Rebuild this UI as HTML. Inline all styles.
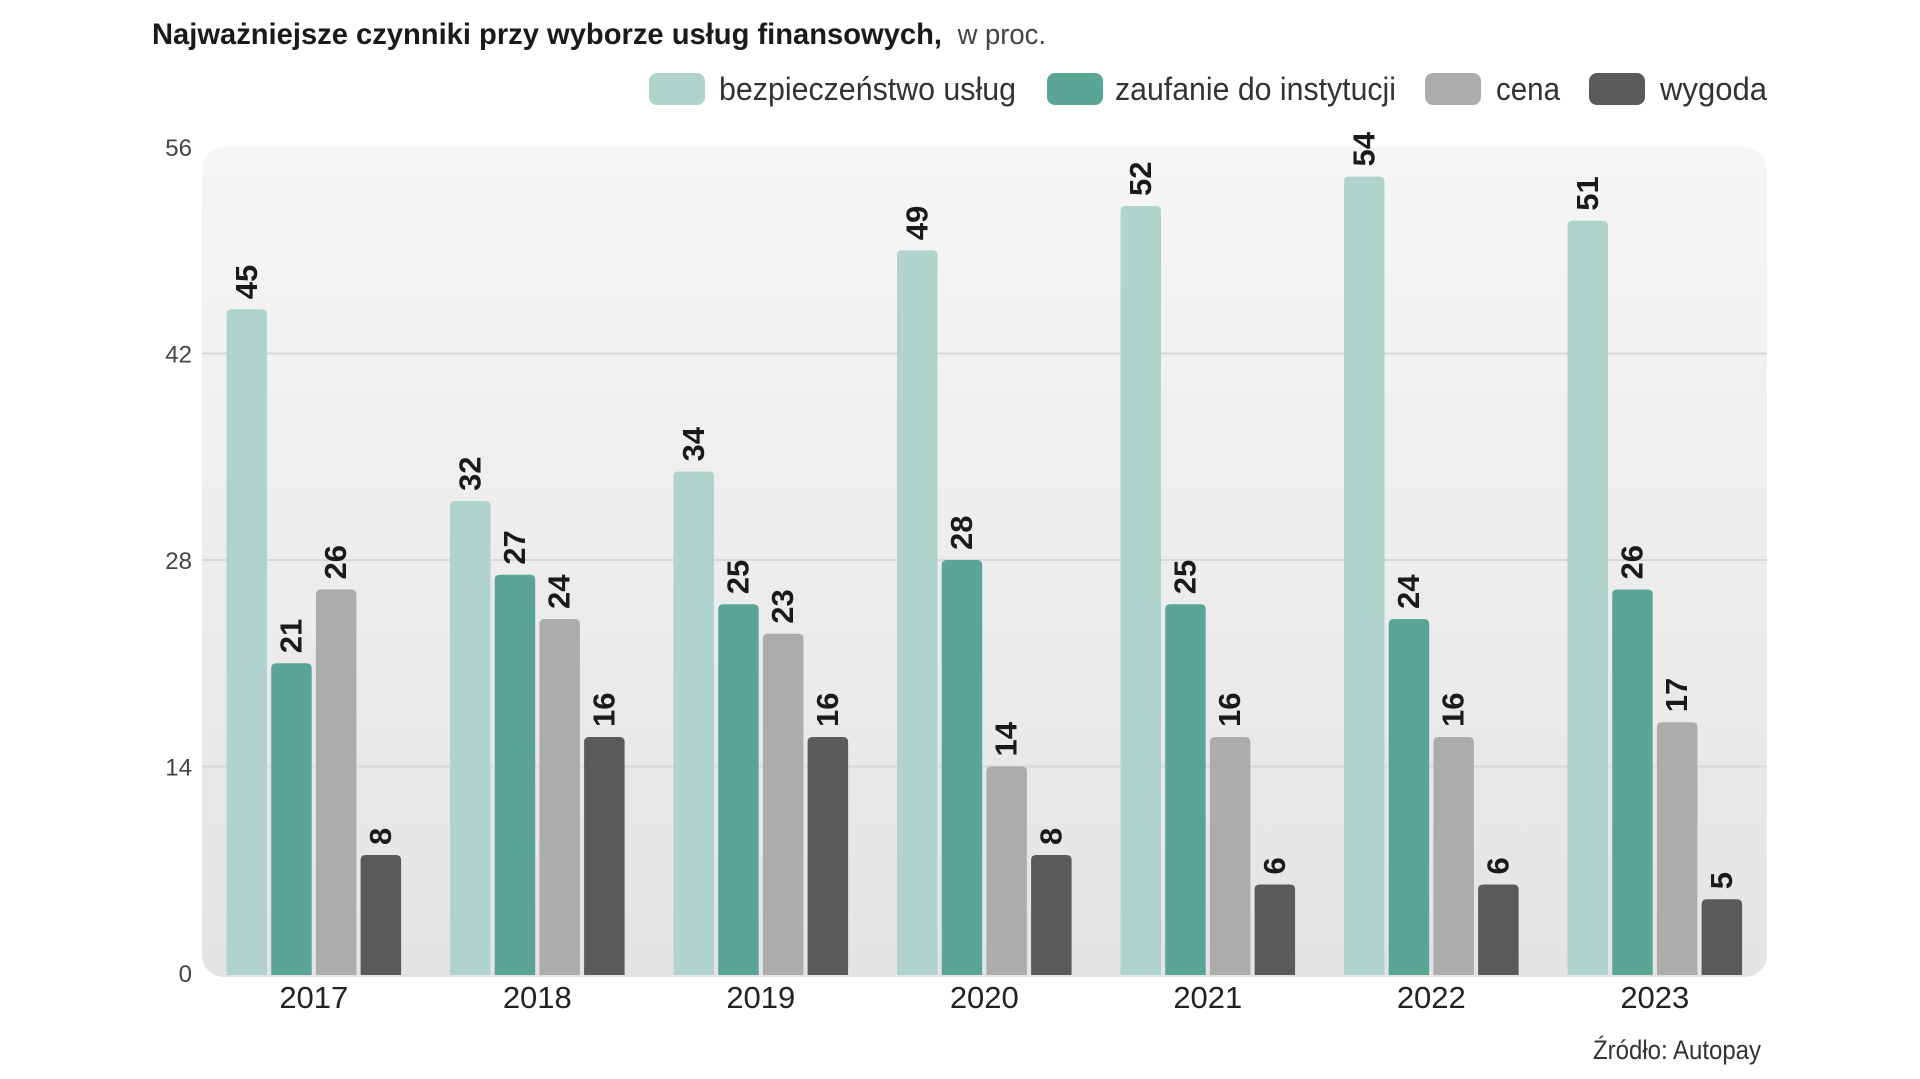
<!DOCTYPE html>
<html><head><meta charset="utf-8"><style>
html,body{margin:0;padding:0;background:#fff;}
svg{display:block;font-family:"Liberation Sans",sans-serif;}
</style></head><body>
<svg id="chart" width="1920" height="1079" viewBox="0 0 1920 1079" xmlns="http://www.w3.org/2000/svg">
<defs>
<linearGradient id="bg" x1="0" y1="0" x2="0" y2="1">
<stop offset="0" stop-color="#f6f6f6"/><stop offset="1" stop-color="#e4e4e4"/>
</linearGradient>
</defs>
<text x="152" y="44" font-size="30" fill="#1a1a1a"><tspan font-weight="bold" textLength="790" lengthAdjust="spacingAndGlyphs">Najważniejsze czynniki przy wyborze usług finansowych,</tspan><tspan font-size="29" fill="#444" dx="8" textLength="96" lengthAdjust="spacingAndGlyphs"> w proc.</tspan></text>
<rect x="202" y="147" width="1565" height="830" rx="22" fill="url(#bg)"/>
<g id="grid"></g>
<g id="bars"></g>
<g id="legend"></g>
<text x="1761" y="1059" font-size="27" fill="#333" text-anchor="end" textLength="168" lengthAdjust="spacingAndGlyphs">Źródło: Autopay</text>
</svg>
<script>
const years = ['2017','2018','2019','2020','2021','2022','2023'];
const seriesNames = ['bezpieczeństwo usług','zaufanie do instytucji','cena','wygoda'];
const bezpieczenstwo = [45,32,34,49,52,54,51];
const zaufanie = [21,27,25,28,25,24,26];
const cena = [26,24,23,14,16,16,17];
const wygoda = [8,16,16,8,6,6,5];
const yTicks = [0,14,28,42,56];

const series = [bezpieczenstwo, zaufanie, cena, wygoda];
const colors = ['#b0d3cc','#5ba595','#acacac','#5a5a5a'];
const NS = 'http://www.w3.org/2000/svg';
const y0 = 973, y1 = 147, yMax = 56;
function y(v){ return y0 - (v / yMax) * (y0 - y1); }
const groupStart = 226.5, groupStep = 223.5, barStep = 44.7, barW = 40.5;
function x(g, s){ return groupStart + g * groupStep + s * barStep; }
function mk(tag, attrs, parent){ const e = document.createElementNS(NS, tag); for (const k in attrs) e.setAttribute(k, attrs[k]); parent.appendChild(e); return e; }

const grid = document.getElementById('grid');
yTicks.forEach(t => {
  if (t > 0 && t < yMax) {
    const l = mk('line', {x1: 202, x2: 1767, y1: y(t), y2: y(t), stroke: '#d8d8d8', 'stroke-width': 2}, grid);
    
    
  }
  const tx = mk('text', {x: 192, y: y(t) + 9, 'font-size': 24, fill: '#444', 'text-anchor': 'end'}, grid);
  tx.textContent = t;
  
  
});

const bars = document.getElementById('bars');
years.forEach((yr, g) => {
  series.forEach((arr, s) => {
    const v = arr[g];
    const bx = x(g, s), by = y(v), h = y0 - by + 2;
    const r = mk('path', {d: `M${bx},${by+h} V${by+5} Q${bx},${by} ${bx+5},${by} H${bx+barW-5} Q${bx+barW},${by} ${bx+barW},${by+5} V${by+h} Z`, fill: colors[s]}, bars);
    
    
    const cx = bx + barW / 2 + 10, cy = by - 10;
    const t = mk('text', {x: cx, y: cy, 'font-size': 31, 'font-weight': 'bold', fill: '#1a1a1a', transform: `rotate(-90 ${cx} ${cy})`}, bars);
    t.textContent = v;
    
    
  });
  const lx = x(g, 0) + (3 * barStep + barW) / 2;
  const yl = mk('text', {x: lx, y: 1008, 'font-size': 31, fill: '#222', 'text-anchor': 'middle'}, bars);
  yl.textContent = yr;
  
  
});

const legend = document.getElementById('legend');
const lg = [[649, 719, 297], [1047, 1115, 281], [1425, 1496, 64], [1589, 1660, 107]];
seriesNames.forEach((n, i) => {
  const sw = mk('rect', {x: lg[i][0], y: 73, width: 56, height: 32, rx: 8, fill: colors[i]}, legend);
  
  
  const t = mk('text', {x: lg[i][1], y: 100, 'font-size': 32, fill: '#333', textLength: lg[i][2], lengthAdjust: 'spacingAndGlyphs'}, legend);
  t.textContent = n;
  
  
});
</script>
</body></html>
